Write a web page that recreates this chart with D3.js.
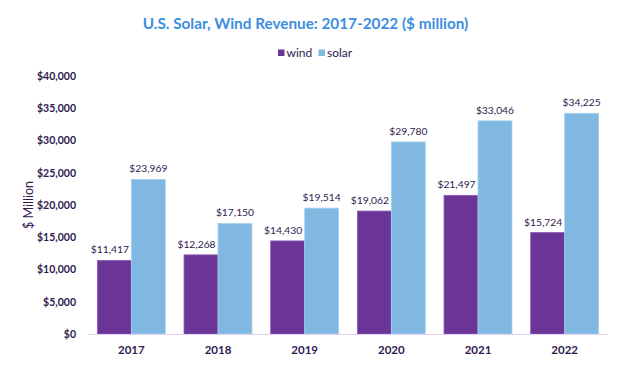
<!DOCTYPE html>
<html><head><meta charset="utf-8">
<script src="https://cdn.jsdelivr.net/npm/d3@7"></script>
<style>body{margin:0;background:#fff;} text{font-family:Lato,"Noto Sans",sans-serif;}</style>
</head><body><svg id="c" width="638" height="373"></svg>
<script>
const years = ["2017","2018","2019","2020","2021","2022"];
const wind = [11417, 12268, 14430, 19062, 21497, 15724];
const solar = [23969, 17150, 19514, 29780, 33046, 34225];
const seriesNames = ["wind","solar"];
const colors = ["#6a3597","#80b8e2"];
const yTicks = [0,5000,10000,15000,20000,25000,30000,35000,40000];

const FF = 'Lato,"Noto Sans",sans-serif';
const svg = d3.select("#c");
const m = {l:88, r:30, t:76, b:39};
const W = 638, H = 373;
const x = d3.scaleBand().domain(years).range([m.l, W-m.r]).paddingInner(0.216).paddingOuter(0.108);
const xs = d3.scaleBand().domain(seriesNames).range([0, x.bandwidth()]);
const y = d3.scaleLinear().domain([0,40000]).range([H-m.b, m.t]);
const fmt = d3.format("$,");
const dark = "#2e1a4f";
const labelShift = [-4.5, 0];

svg.append("text").attr("x",305.5).attr("y",28.5).attr("text-anchor","middle")
  .attr("font-size",15.3).attr("font-weight",700).attr("fill","#3c8ee0")
  .text("U.S. Solar, Wind Revenue: 2017-2022 ($ million)");

// legend
const lg = svg.append("g");
const legendX = [278, 318.5];
seriesNames.forEach((n,i)=>{
  lg.append("rect").attr("x",legendX[i]).attr("y",49.5).attr("width",6.5).attr("height",6.5).attr("fill",colors[i]);
  lg.append("text").attr("x",legendX[i]+8.5).attr("y",56.5).attr("font-size",12).attr("fill",dark).text(n);
});

// y axis
const ya = svg.append("g").attr("transform",`translate(${m.l},0)`)
  .call(d3.axisLeft(y).tickValues(yTicks).tickFormat(fmt).tickSize(0).tickPadding(12));
ya.select(".domain").remove();
ya.selectAll("text").attr("font-size",10.5).attr("font-weight",700).attr("fill",dark)
  .style("font-family",FF);

svg.append("text").attr("transform",`translate(32.5,${(m.t+H-m.b)/2}) rotate(-90)`)
  .attr("text-anchor","middle").attr("font-size",12.5).attr("fill",dark).text("$ Million");

// bars
const data = years.map((yr,i)=>({yr, vals:[wind[i], solar[i]]}));
const g = svg.append("g");
data.forEach(d=>{
  d.vals.forEach((v,j)=>{
    const bx = x(d.yr)+xs(seriesNames[j]);
    g.append("rect").attr("x",bx).attr("y",y(v)).attr("width",xs.bandwidth()).attr("height",y(0)-y(v))
      .attr("fill",colors[j]).attr("stroke", j===0?"#8a5cb5":"#a8d2f0").attr("stroke-width",0.8);
    g.append("text").attr("x",bx+xs.bandwidth()/2+labelShift[j]).attr("y",y(v)-7).attr("text-anchor","middle")
      .attr("font-size",10.3).attr("fill",dark).text(fmt(v));
  });
});

// baseline
svg.append("line").attr("x1",m.l).attr("x2",W-m.r).attr("y1",y(0)+0.5).attr("y2",y(0)+0.5)
  .attr("stroke","#e2cff2").attr("stroke-width",1);

// x axis
const xa = svg.append("g").attr("transform",`translate(0,${y(0)})`)
  .call(d3.axisBottom(x).tickSize(0).tickPadding(12));
xa.select(".domain").remove();
xa.selectAll("text").attr("font-size",11.5).attr("font-weight",700).attr("fill",dark)
  .style("font-family",FF);
</script></body></html>
